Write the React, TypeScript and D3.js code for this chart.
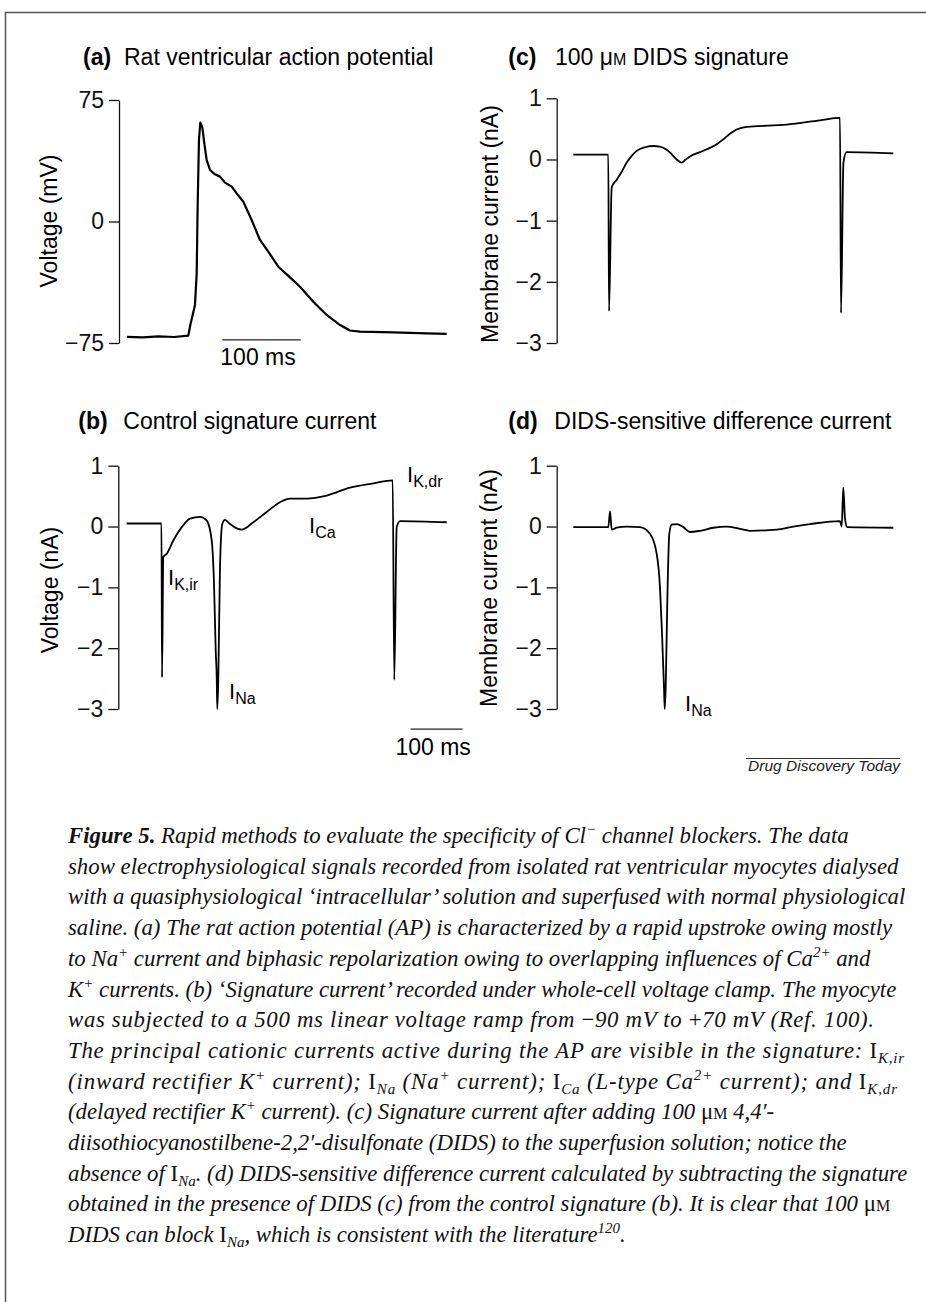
import React, { Component } from 'react'
import * as d3 from 'd3';

// (a) rat ventricular action potential -- time (ms), voltage (mV)
const apTime = [0, 20, 40, 60, 78.2, 81.2, 86.7, 88.9, 90.1, 91.8, 93.5, 96.1, 98.6, 101.6, 105.9, 112.2, 118.6, 125, 133.5, 139.9, 148.4, 159, 169.6, 180.2, 193, 207.9, 220.7, 237.6, 254.7, 271.7, 284.4, 297.2, 339.7, 382.3, 407.8];
const apVoltage = [-71.2, -71.5, -70.9, -71.3, -70.4, -62.9, -51.5, -32, 9.1, 50.3, 61, 58.1, 48.3, 38, 31.8, 29.1, 27.7, 24, 21.5, 17.4, 12.2, 0.9, -11.4, -18.6, -27.9, -34.5, -40.3, -49.5, -57.7, -63.9, -67.3, -68, -68.4, -69, -69.4];
const apTicks = [75, 0, -75];

// (b) control signature current -- time (ms), current (nA)
const ctrlTime = [0, 66.9, 67.9, 70.4, 76.9, 89.6, 105.8, 121.7, 141, 153.8, 163.5, 167.9, 171.2, 173.1, 174.2, 176.2, 179.4, 183.8, 189, 198.7, 211.5, 221, 243.5, 269.2, 294.8, 314, 346.2, 384.6, 429.4, 474.2, 511.5, 514.6, 519.2, 525.6, 615.4];
const ctrlCurrent = [0.05, 0.05, -2.48, -0.5, -0.45, -0.23, -0.01, 0.13, 0.16, 0.1, -0.23, -0.94, -2.04, -2.48, -3.0, -2.48, -0.67, 0.04, 0.11, 0.04, -0.03, -0.05, 0.07, 0.24, 0.4, 0.46, 0.46, 0.51, 0.64, 0.71, 0.76, -2.52, -0.01, 0.09, 0.07];

// (c) 100 uM DIDS signature
const didsTime = [0, 67.3, 68.7, 73.8, 83.5, 93.1, 102.7, 112.3, 121.9, 137.9, 153.8, 166.3, 179.6, 189.8, 197.5, 208.5, 214.8, 224.4, 243.7, 262.9, 274.4, 288.5, 301.3, 314.2, 330.2, 346.2, 410.4, 474.4, 512.9, 514.8, 519.5, 525.5, 615.4];
const didsCurrent = [0.08, 0.08, -2.48, -0.46, -0.33, -0.2, -0.05, 0.06, 0.14, 0.2, 0.22, 0.21, 0.16, 0.08, 0.01, -0.05, -0.01, 0.05, 0.12, 0.19, 0.24, 0.33, 0.42, 0.49, 0.53, 0.54, 0.57, 0.64, 0.68, -2.51, -0.05, 0.12, 0.1];

// (d) DIDS-sensitive difference current
const diffTime = [0, 67.3, 70.6, 73.8, 83.5, 102.7, 128.3, 147.5, 160.4, 166.7, 170.6, 174.4, 175.8, 177.7, 180.8, 184.6, 189.2, 198.8, 211.5, 224.4, 243.7, 269.2, 295, 320.6, 339.8, 391.2, 423.1, 455.2, 512.9, 516.2, 519.2, 522.5, 526.9, 615.4];
const diffCurrent = [-0.01, -0.01, 0.25, -0.05, -0.02, 0, -0.01, -0.12, -0.45, -1.0, -1.76, -2.64, -3.0, -2.64, -1.22, -0.12, 0.03, 0.04, -0.01, -0.09, -0.07, -0.02, 0, -0.04, -0.07, -0.05, 0, 0.04, 0.09, 0, 0.64, 0.13, -0.01, -0.02];

const currentTicks = [1, 0, -1, -2, -3];

const ctrlLabels = [['I', 'K,ir'], ['I', 'Na'], ['I', 'Ca'], ['I', 'K,dr']];
const diffLabels = [['I', 'Na']];

const captionLines = [
  [['Figure 5.', 'bi'], [' Rapid methods to evaluate the specificity of Cl', 'i'], ['\u2212', 'sup'], [' channel blockers. The data', 'i']],
  [['show electrophysiological signals recorded from isolated rat ventricular myocytes dialysed', 'i']],
  [['with a quasiphysiological \u2018intracellular\u2019 solution and superfused with normal physiological', 'i']],
  [['saline. (a) The rat action potential (AP) is characterized by a rapid upstroke owing mostly', 'i']],
  [['to Na', 'i'], ['+', 'sup'], [' current and biphasic repolarization owing to overlapping influences of Ca', 'i'], ['2+', 'sup'], [' and', 'i']],
  [['K', 'i'], ['+', 'sup'], [' currents. (b) \u2018Signature current\u2019 recorded under whole-cell voltage clamp. The myocyte', 'i']],
  [['was subjected to a 500 ms linear voltage ramp from ', 'i'], ['\u2212', 'r'], ['90 mV to ', 'i'], ['+', 'r'], ['70 mV (Ref. 100).', 'i']],
  [['The principal cationic currents active during the AP are visible in the signature: ', 'i'], ['I', 'r'], ['K,ir', 'sub']],
  [['(inward rectifier K', 'i'], ['+', 'sup'], [' current); ', 'i'], ['I', 'r'], ['Na', 'sub'], [' (Na', 'i'], ['+', 'sup'], [' current); ', 'i'], ['I', 'r'], ['Ca', 'sub'], [' (L-type Ca', 'i'], ['2+', 'sup'], [' current); and ', 'i'], ['I', 'r'], ['K,dr', 'sub']],
  [['(delayed rectifier K', 'i'], ['+', 'sup'], [' current). (c) Signature current after adding 100 ', 'i'], ['\u03bc', 'r'], ['M', 'sc'], [' 4,4\u2032-', 'i']],
  [['diisothiocyanostilbene-2,2\u2032-disulfonate (DIDS) to the superfusion solution; notice the', 'i']],
  [['absence of ', 'i'], ['I', 'r'], ['Na', 'sub'], ['. (d) DIDS-sensitive difference current calculated by subtracting the signature', 'i']],
  [['obtained in the presence of DIDS (c) from the control signature (b). It is clear that 100 ', 'i'], ['\u03bc', 'r'], ['M', 'sc']],
  [['DIDS can block ', 'i'], ['I', 'r'], ['Na', 'sub'], [', which is consistent with the literature', 'i'], ['120', 'sup'], ['.', 'i']],
];

const SANS = 'Liberation Sans, Arial, Helvetica, sans-serif';
const SERIF = 'Liberation Serif, Times New Roman, serif';

export default class App extends Component {
  node: SVGSVGElement | null = null;

  componentDidMount() {
    this.draw()
  }
  componentDidUpdate() {
    this.draw()
  }

  draw() {
    var svg = d3.select(this.node);
    svg.selectAll('*').remove();

    // frame
    svg.append('path').attr('d', 'M5.5,1302V12.5H926').attr('fill', 'none').attr('stroke', '#555').attr('stroke-width', 1.5);

    var panels = [
      { tag: '(a)', title: ['Rat ventricular action potential'], ylabel: 'Voltage (mV)', t: apTime, v: apVoltage, ticks: apTicks, domain: [-75, 75],
        axisX: 119, x0: 127, pxPerMs: 0.784, yTop: 100, yBottom: 343, tagX: 83, titleX: 124, titleY: 65, ylabX: 57, ylabY: 221,
        bar: { t: 121.6, v: -73.1, labelY: 365 }, labels: [], labelPos: [], smooth: false },
      { tag: '(c)', title: ['100 ', '\u03bc', 'M', ' DIDS signature'], ylabel: 'Membrane current (nA)', t: didsTime, v: didsCurrent, ticks: currentTicks, domain: [-3, 1],
        axisX: 556.7, x0: 573.3, pxPerMs: 0.52, yTop: 98.3, yBottom: 343, tagX: 508.3, titleX: 555, titleY: 65, ylabX: 498, ylabY: 224,
        bar: null, labels: [], labelPos: [], smooth: true },
      { tag: '(b)', title: ['Control signature current'], ylabel: 'Voltage (nA)', t: ctrlTime, v: ctrlCurrent, ticks: currentTicks, domain: [-3, 1],
        axisX: 118.3, x0: 126.7, pxPerMs: 0.52, yTop: 465.7, yBottom: 709, tagX: 78.3, titleX: 123.3, titleY: 429.3, ylabX: 58, ylabY: 590,
        bar: { t: 546, v: -3.33, labelY: 755 }, labels: ctrlLabels, labelPos: [[168, 585], [229, 699], [309, 533], [407, 482]], smooth: true },
      { tag: '(d)', title: ['DIDS-sensitive difference current'], ylabel: 'Membrane current (nA)', t: diffTime, v: diffCurrent, ticks: currentTicks, domain: [-3, 1],
        axisX: 556.7, x0: 573.3, pxPerMs: 0.52, yTop: 465.7, yBottom: 709, tagX: 508.3, titleX: 554.3, titleY: 429.3, ylabX: 497, ylabY: 588,
        bar: null, labels: diffLabels, labelPos: [[685, 711]], smooth: true },
    ];

    panels.forEach(function(p) {
      var g = svg.append('g');
      var tMax = d3.max(p.t) as number;
      var x = d3.scaleLinear().domain([0, tMax]).range([p.x0, p.x0 + tMax * p.pxPerMs]);
      var y = d3.scaleLinear().domain(p.domain).range([p.yBottom, p.yTop]);

      // title
      g.append('text').attr('x', p.tagX).attr('y', p.titleY).attr('font-family', SANS).attr('font-size', 23)
        .attr('font-weight', 'bold').text(p.tag);
      var tt = g.append('text').attr('x', p.titleX).attr('y', p.titleY).attr('font-family', SANS).attr('font-size', 23);
      if (p.title.length > 1) {
        tt.append('tspan').text(p.title[0]);
        tt.append('tspan').text(p.title[1]);
        tt.append('tspan').attr('font-size', 16).text(p.title[2]);
        tt.append('tspan').text(p.title[3]);
      } else {
        tt.text(p.title[0]);
      }

      // y axis
      var axis = d3.axisLeft(y).tickValues(p.ticks).tickSize(10).tickSizeOuter(0).tickPadding(5).tickFormat(d3.format('d'));
      var ag = g.append('g').attr('transform', 'translate(' + p.axisX + ',0)').call(axis);
      ag.attr('font-size', 23).attr('font-family', SANS).attr('color', '#111');
      ag.selectAll('path,line').attr('stroke-width', 1.3);

      g.append('text').attr('transform', 'translate(' + p.ylabX + ',' + p.ylabY + ') rotate(-90)')
        .attr('text-anchor', 'middle').attr('font-family', SANS).attr('font-size', 23).text(p.ylabel);

      // trace
      var pts = p.t.map(function(t, i) { return [t, p.v[i]]; });
      var line = d3.line().x(function(d) { return x(d[0]); }).y(function(d) { return y(d[1]); })
        .curve(p.smooth ? d3.curveMonotoneX : d3.curveLinear);
      g.append('path').datum(pts).attr('fill', 'none').attr('stroke', '#000')
        .attr('stroke-width', p.smooth ? 1.8 : 2.2).attr('stroke-linejoin', 'round')
        .attr('d', line);

      // 100 ms scale bar
      if (p.bar) {
        var bx0 = x(p.bar.t), bx1 = x(p.bar.t + 100);
        g.append('line').attr('x1', bx0).attr('x2', bx1).attr('y1', y(p.bar.v)).attr('y2', y(p.bar.v))
          .attr('stroke', '#222').attr('stroke-width', 1.3);
        g.append('text').attr('x', (bx0 + bx1) / 2 - 3.5).attr('y', p.bar.labelY).attr('text-anchor', 'middle')
          .attr('font-family', SANS).attr('font-size', 23).text('100 ms');
      }

      // current labels
      p.labels.forEach(function(l, i) {
        var lt = g.append('text').attr('x', p.labelPos[i][0]).attr('y', p.labelPos[i][1]).attr('font-family', SANS).attr('font-size', 22);
        lt.append('tspan').text(l[0]);
        lt.append('tspan').attr('font-size', 16).attr('dy', 5).text(l[1]);
      });
    });

    // journal tag
    svg.append('line').attr('x1', 746).attr('x2', 900).attr('y1', 758.5).attr('y2', 758.5).attr('stroke', '#333').attr('stroke-width', 1);
    svg.append('text').attr('x', 900).attr('y', 771).attr('text-anchor', 'end').attr('font-family', SANS)
      .attr('font-size', 15.5).attr('font-style', 'italic').attr('fill', '#222').text('Drug Discovery Today');

    // caption; a few lines are stretched to the width they have in the original
    var stretch: { [k: number]: number } = { 6: 806, 7: 836, 8: 829 };
    captionLines.forEach(function(segs, i) {
      var t = svg.append('text').attr('x', 68).attr('y', 843 + i * 30.7).attr('font-family', SERIF)
        .attr('font-size', 22.8).attr('font-style', 'italic').attr('fill', '#111');
      if (stretch[i]) t.attr('textLength', stretch[i]).attr('lengthAdjust', 'spacing');
      var shift = 0;
      segs.forEach(function(s) {
        var kind = s[1];
        var target = kind === 'sup' ? -9 : kind === 'sub' ? 5 : 0;
        var ts = t.append('tspan').attr('dy', target - shift).text(s[0]);
        shift = target;
        if (kind === 'sup' || kind === 'sub') ts.attr('font-size', 15);
        if (kind === 'bi') ts.attr('font-weight', 'bold');
        if (kind === 'r') ts.attr('font-style', 'normal');
        if (kind === 'sc') ts.attr('font-size', 16).attr('font-style', 'normal');
      });
    });
  }

  render() {
    return <div style={{ position: 'absolute', left: 0, top: 0 }}>
      <svg ref={node => { this.node = node; }} width={926} height={1302} style={{ display: 'block', background: '#fff' }}></svg>
    </div>
  }
}
